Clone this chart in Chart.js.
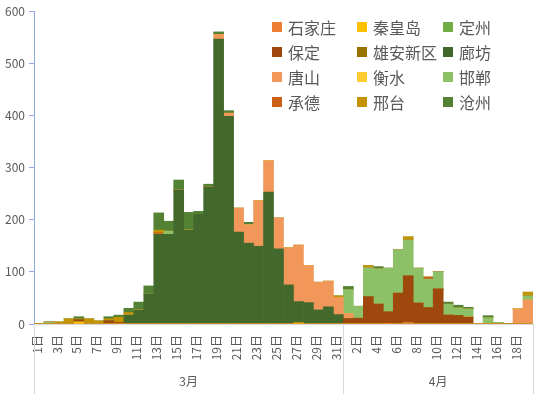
<!DOCTYPE html>
<html>
<head>
<meta charset="utf-8">
<script src="https://cdn.jsdelivr.net/npm/chart.js@4.4.0/dist/chart.umd.min.js"></script>
<style>
  html, body { margin: 0; padding: 0; background: #fff; }
  #wrap { position: relative; width: 535px; height: 394px; }
  #legend {
    position: absolute; left: 272px; top: 14px;
    display: grid; grid-template-columns: 85px 86px 80px; grid-auto-rows: 25px;
    font-family: "Noto Sans CJK SC", sans-serif; font-size: 16px; color: #595959;
  }
  #legend .item { display: flex; align-items: center; white-space: nowrap; }
  #legend .box { width: 10px; height: 10px; margin-right: 6px; flex: none; }
</style>
</head>
<body>
<div id="wrap">
  <canvas id="chart"></canvas>
  <div id="legend"></div>
</div>
<script>
// 3月1日 - 4月19日
const dayLabels = [
  '1日','2日','3日','4日','5日','6日','7日','8日','9日','10日',
  '11日','12日','13日','14日','15日','16日','17日','18日','19日','20日',
  '21日','22日','23日','24日','25日','26日','27日','28日','29日','30日','31日',
  '1日','2日','3日','4日','5日','6日','7日','8日','9日','10日',
  '11日','12日','13日','14日','15日','16日','17日','18日','19日'
];
const months = ['3月', '4月'];
const monthSpans = [31, 19];
const yTicks = [0, 100, 200, 300, 400, 500, 600];

// series values, bottom of the stack first
const shijiazhuang = [0,0,0,0,0,0,0,0,0,0, 0,0,0,0,0,0,0,0,0,0, 0,0,0,0,0,0,0,0,0,0, 0, 0,0,0,0,1,0,2,0,0, 0,0,0,0,0,0,0,0,0,0];
const qinhuangdao  = [0,0,0,0,4,0,0,0,0,0, 0,0,0,0,0,0,0,0,0,0, 0,0,0,0,0,0,2,0,0,0, 0, 0,0,0,0,0,0,0,0,0, 0,0,0,0,0,0,0,0,0,0];
const dingzhou     = [0,0,0,0,0,0,0,0,0,0, 0,0,0,0,0,0,0,0,0,0, 0,0,0,0,0,0,0,0,0,0, 0, 0,0,0,0,0,0,0,0,0, 0,0,0,0,0,0,0,0,0,0];
const baoding      = [0,0,0,0,4,0,0,6,3,0, 0,0,0,0,0,0,0,0,0,0, 0,0,0,0,0,0,0,0,0,0, 0, 10,11,52,38,22,59,90,40,31, 67,17,16,13,0,0,0,0,0,0];
const xiongan      = [0,0,0,0,0,0,0,0,0,0, 0,0,0,0,0,0,0,0,0,0, 0,0,0,0,0,0,0,0,0,0, 0, 0,0,0,0,0,0,0,0,0, 0,0,0,0,0,0,0,0,0,0];
const langfang     = [0,0,0,0,0,0,0,0,0,17, 27,57,172,172,257,180,210,263,546,398, 176,155,149,253,144,75,41,41,27,33, 18, 0,0,0,0,0,0,0,0,0, 0,0,0,0,0,0,0,0,0,0];
const tangshan     = [0,0,0,0,0,0,0,0,0,0, 0,0,0,0,0,0,0,0,9,6, 46,35,87,60,59,71,108,71,53,49, 33, 10,0,0,0,0,0,0,0,0, 0,0,0,0,0,0,0,0,29,46];
const hengshui     = [0,0,0,0,0,0,0,0,0,0, 0,0,0,0,0,0,0,0,0,0, 0,0,0,0,0,0,0,0,0,0, 0, 0,0,0,0,0,0,0,0,0, 0,0,0,1,0,0,0,0,0,0];
const handan       = [0,4,0,0,0,0,0,0,0,0, 0,0,0,6,0,0,0,0,0,0, 0,0,0,0,0,0,0,0,0,0, 0, 46,23,56,68,84,83,69,67,55, 33,21,15,15,0,12,3,0,0,8];
const chengde      = [0,0,0,0,0,0,0,0,0,0, 0,0,3,0,0,0,0,0,0,0, 0,0,0,0,0,0,0,0,0,0, 0, 0,0,0,0,0,0,0,0,4, 0,0,0,0,0,0,0,0,0,0];
const xingtai      = [0,0,4,10,2,10,6,4,10,5, 0,0,5,0,0,0,0,0,0,0, 0,0,0,0,0,0,0,0,0,0, 3, 0,0,4,0,0,0,6,0,0, 0,0,0,0,0,0,0,0,0,7];
const cangzhou     = [0,0,0,0,4,0,0,4,4,8, 15,16,33,19,19,34,6,5,5,5, 0,5,0,0,0,0,0,0,0,0, 0, 6,0,0,4,0,0,0,0,0, 0,4,5,3,0,4,0,0,0,0];

const series = [
  { name: '石家庄', data: shijiazhuang, color: '#ED7D31' },
  { name: '秦皇岛', data: qinhuangdao, color: '#FFC000' },
  { name: '定州', data: dingzhou, color: '#70AD47' },
  { name: '保定', data: baoding, color: '#9E480E' },
  { name: '雄安新区', data: xiongan, color: '#997300' },
  { name: '廊坊', data: langfang, color: '#43682B' },
  { name: '唐山', data: tangshan, color: '#F1975A' },
  { name: '衡水', data: hengshui, color: '#FFCD33' },
  { name: '邯郸', data: handan, color: '#8CC168' },
  { name: '承德', data: chengde, color: '#CC5F16' },
  { name: '邢台', data: xingtai, color: '#C49400' },
  { name: '沧州', data: cangzhou, color: '#548235' }
];

const font = '"Noto Sans CJK SC", sans-serif';

// month row under the day labels
const monthGroups = {
  id: 'monthGroups',
  afterDraw(chart) {
    const ctx = chart.ctx;
    const x = chart.scales.x;
    const w = (x.right - x.left) / dayLabels.length;
    const edges = [0];
    monthSpans.forEach(n => edges.push(edges[edges.length - 1] + n));
    ctx.save();
    ctx.strokeStyle = '#D6DAE0';
    ctx.lineWidth = 1;
    edges.forEach(e => {
      const px = Math.round(x.left + e * w) + 0.5;
      ctx.beginPath();
      ctx.moveTo(px, chart.chartArea.bottom);
      ctx.lineTo(px, chart.height);
      ctx.stroke();
    });
    ctx.fillStyle = '#595959';
    ctx.font = '12px ' + font;
    ctx.textAlign = 'center';
    ctx.textBaseline = 'middle';
    months.forEach((m, i) => {
      ctx.fillText(m, x.left + (edges[i] + edges[i + 1]) / 2 * w, 381);
    });
    ctx.restore();
  }
};

const legendEl = document.getElementById('legend');
series.forEach(s => {
  const item = document.createElement('div');
  item.className = 'item';
  item.innerHTML = '<span class="box" style="background:' + s.color + '"></span>' + s.name;
  legendEl.appendChild(item);
});

new Chart(document.getElementById('chart'), {
  type: 'bar',
  data: {
    labels: dayLabels,
    datasets: series.map(s => ({
      label: s.name,
      data: s.data,
      backgroundColor: s.color,
      borderWidth: 0,
      categoryPercentage: 1,
      barPercentage: 1
    }))
  },
  options: {
    responsive: true,
    maintainAspectRatio: false,
    animation: false,
    layout: { padding: { top: 11, right: 2, left: 0, bottom: 0 } },
    plugins: {
      legend: { display: false },
      tooltip: { enabled: false }
    },
    scales: {
      x: {
        stacked: true,
        grid: { display: false, drawTicks: false },
        border: { color: '#D9D9D9' },
        ticks: {
          autoSkip: false,
          minRotation: 90,
          maxRotation: 90,
          padding: 11,
          labelOffset: -2,
          color: '#595959',
          font: { family: font, size: 12 },
          callback: function (value, index) {
            return index % 2 === 0 ? dayLabels[index] : '';
          }
        },
        afterFit: function (scale) {
          scale.height = 70;
          scale.paddingLeft = 0;
          scale.paddingRight = 0;
        }
      },
      y: {
        stacked: true,
        min: yTicks[0],
        max: yTicks[yTicks.length - 1],
        grid: { drawOnChartArea: false, color: '#8FAADC', tickLength: 5 },
        border: { color: '#8FAADC' },
        ticks: {
          stepSize: 100,
          padding: 4,
          color: '#595959',
          font: { family: font, size: 12 }
        },
        afterFit: function (scale) {
          scale.width = 34;
          scale.paddingTop = 0;
          scale.paddingBottom = 0;
        }
      }
    }
  },
  plugins: [monthGroups]
});
</script>
</body>
</html>
